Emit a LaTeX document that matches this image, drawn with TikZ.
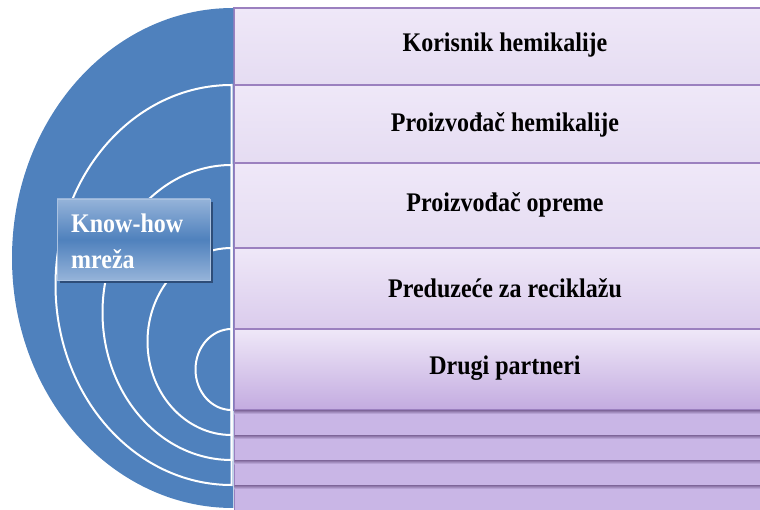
\documentclass[tikz,border=0pt]{standalone}
\usepackage{fontspec}
\setmainfont{Liberation Serif}

\definecolor{discblue}{HTML}{4F81BD}
\definecolor{boxlight}{HTML}{95B3D9}
\definecolor{boxshadow}{HTML}{2E4D78}
\definecolor{rowtop}{HTML}{EFE8F8}
\definecolor{rowmid}{HTML}{E5DCF2}
\definecolor{rowfour}{HTML}{DACBEC}
\definecolor{rowdeep}{HTML}{C3ABE0}
\definecolor{rowline}{HTML}{9B80BF}
\definecolor{stripe}{HTML}{C9B6E6}
\definecolor{stripeline}{HTML}{7E6699}

\newcommand{\tallword}[1]{\scalebox{1}[1.12]{#1}}

\tikzset{
  rowbox/.style={draw=rowline, line width=1.2pt, top color=rowtop, bottom color=#1},
  rowtext/.style={font=\bfseries\fontsize{24}{28}\selectfont, text=black},
  boxtext/.style={font=\bfseries\fontsize{24}{28}\selectfont, text=white, anchor=base west, inner sep=0pt},
  ring/.style={draw=white, line width=2pt},
  stripebox/.style={fill=stripe, draw=rowline, line width=1pt},
}

\begin{document}
\begin{tikzpicture}[x=1pt,y=-1pt]
  \useasboundingbox (0,0) rectangle (760,510);
  % rows on the right
  \path[rowbox=rowmid]  (234,8)   rectangle (780,85);
  \path[rowbox=rowmid]  (234,85)  rectangle (780,163);
  \path[rowbox=rowmid]  (234,163) rectangle (780,248);
  \path[rowbox=rowfour] (234,248) rectangle (780,329);
  \path[rowbox=rowdeep] (234,329) rectangle (780,410);
  \foreach \top/\bot in {410/435, 435/460, 460/485, 485/515} {
    \path[stripebox] (234,\top) rectangle (780,\bot);
    \shade[top color=stripeline, bottom color=stripe] (234.6,\top) rectangle (780,\top+4);
  }
  \node[rowtext] (user)    at (505,45)  {\tallword{Korisnik hemikalije}};
  \node[rowtext] (maker)   at (505,125) {\tallword{Proizvođač hemikalije}};
  \node[rowtext] (equip)   at (505,205) {\tallword{Proizvođač opreme}};
  \node[rowtext] (recycle) at (505,288) {\tallword{Preduzeće za reciklažu}};
  \node[rowtext] (others)  at (505,368) {\tallword{Drugi partneri}};
  % half disc with rings
  \begin{scope}
    \clip (0,0) rectangle (233.4,510);
    \fill[discblue] (233,258) ellipse[x radius=221, y radius=250];
    \foreach \cy/\rx/\ry in {285/176/200, 312.5/129/147.5, 341.5/84/93.5, 369.5/36/40.5}
      \draw[ring] (231.5,\cy+\ry) arc[start angle=90, end angle=270, x radius=\rx, y radius=\ry] -- cycle;
  \end{scope}
  % label box
  \fill[boxshadow] (60,202) rectangle (213,283);
  \node[minimum width=153pt, minimum height=81pt, inner sep=0pt,
        top color=boxlight, bottom color=boxlight, middle color=discblue,
        draw=boxlight!80!white, line width=0.4pt] (knowhow) at (133.5,239.5) {};
  \node[boxtext] (knowline) at (71,233) {\tallword{Know-how}};
  \node[boxtext] (mrezaline) at (71,269) {\tallword{mreža}};
\end{tikzpicture}
\end{document}
